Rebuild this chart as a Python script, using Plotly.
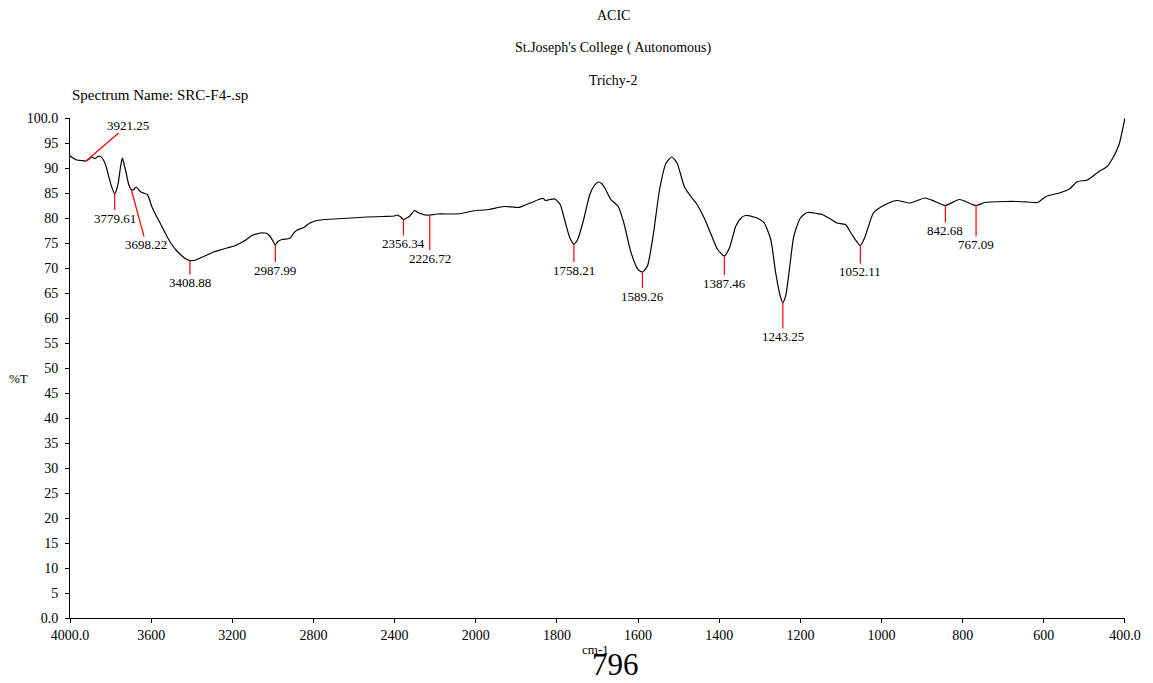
import plotly.graph_objects as go

# ---------------- data ----------------
# high-wavenumber region (4000 -> 2000 cm-1)
wn_high = [4000, 3985, 3967, 3945, 3921.25, 3905, 3893, 3877, 3862, 3850, 3835, 3822,
           3811, 3795, 3779.61, 3768, 3761, 3750, 3742, 3735, 3723, 3710, 3698.22, 3688,
           3674, 3654, 3632, 3618, 3597, 3577, 3556, 3523, 3500, 3473, 3450, 3432, 3408.88,
           3380, 3358, 3325, 3292, 3260, 3226, 3190, 3160, 3130, 3103, 3080, 3062, 3040,
           3029, 3015, 3004, 2987.99, 2975, 2955, 2930, 2914, 2895, 2880, 2860, 2848, 2825,
           2806, 2785, 2765, 2699, 2617, 2535, 2453, 2400, 2387, 2370, 2356.34, 2340, 2325,
           2301, 2285, 2272, 2250, 2226.72, 2189, 2120, 2074, 2040, 2000]
t_high = [92.4, 92.0, 91.6, 91.5, 91.4, 91.8, 92.2, 91.9, 92.3, 92.3, 91.6, 90.3,
          88.6, 86.3, 84.8, 86.0, 87.3, 90.5, 92.0, 91.0, 89.0, 86.6, 85.7, 85.6,
          86.2, 85.3, 84.9, 84.7, 82.3, 80.6, 79.0, 76.4, 74.8, 73.4, 72.5, 71.9, 71.5,
          71.6, 72.0, 72.6, 73.2, 73.6, 74.0, 74.4, 75.0, 75.7, 76.5, 76.8, 77.0, 77.0,
          76.9, 76.4, 75.7, 74.6, 75.3, 75.7, 75.8, 76.0, 77.1, 77.6, 77.9, 78.1, 78.8,
          79.2, 79.5, 79.6, 79.8, 80.0, 80.2, 80.3, 80.4, 80.6, 80.2, 79.7, 80.0, 80.4,
          81.5, 81.1, 80.9, 80.6, 80.6, 80.8, 80.8, 80.9, 81.2, 81.5]

# low-wavenumber region (2000 -> 400 cm-1)
wn_low = [2000, 1968, 1945, 1927, 1910, 1895, 1878, 1862, 1845, 1833, 1829, 1817, 1805,
          1792, 1780, 1768, 1758.21, 1749, 1735, 1719, 1708, 1698, 1690, 1682, 1667, 1649,
          1635, 1617, 1600, 1589.26, 1577, 1563, 1547, 1531, 1517, 1504, 1486, 1469, 1457,
          1437, 1420, 1404, 1387.46, 1375, 1359, 1345, 1335, 1314, 1300, 1289, 1273, 1261,
          1250, 1243.25, 1236, 1228, 1216, 1200, 1183, 1159, 1146, 1126, 1110, 1089, 1073,
          1052.11, 1040, 1020, 995, 963, 930, 893, 868, 842.68, 808, 767.09, 746, 693, 668,
          640, 615, 595, 562, 537, 517, 493, 464, 444, 428, 415, 407, 400]
t_low = [81.5, 81.7, 82.1, 82.3, 82.2, 82.1, 82.6, 83.1, 83.7, 83.9, 83.5, 83.7, 83.8,
         82.7, 79.3, 76.0, 74.8, 75.7, 79.4, 84.7, 86.5, 87.2, 86.9, 86.0, 83.7, 82.3,
         79.0, 73.0, 69.7, 69.2, 70.4, 76.4, 85.7, 91.0, 92.2, 91.0, 86.3, 84.2, 83.0,
         80.0, 76.7, 73.7, 72.4, 74.0, 78.4, 80.1, 80.5, 80.2, 79.7, 79.0, 75.7, 69.1,
         64.5, 63.1, 64.5, 69.1, 76.4, 80.0, 81.1, 80.9, 80.7, 79.8, 79.0, 78.7, 76.7,
         74.5, 76.4, 81.0, 82.5, 83.5, 83.0, 84.0, 83.3, 82.5, 83.7, 82.5, 83.1, 83.3, 83.3,
         83.2, 83.1, 84.3, 85.0, 85.8, 87.3, 87.6, 89.3, 90.3, 92.3, 94.6, 97.3, 100.0]

# labelled peaks
peak_wn = [3921.25, 3779.61, 3698.22, 3408.88, 2987.99, 2356.34, 2226.72,
           1758.21, 1589.26, 1387.46, 1243.25, 1052.11, 842.68, 767.09]
peak_t = [91.4, 84.8, 85.7, 71.5, 74.6, 79.7, 80.6,
          74.8, 69.2, 72.4, 63.1, 74.5, 82.5, 82.5]

# axis ticks
xticks_high = [4000, 3600, 3200, 2800, 2400]
xtext_high = ["4000.0", "3600", "3200", "2800", "2400"]
xticks_low = [2000, 1800, 1600, 1400, 1200, 1000, 800, 600, 400]
xtext_low = ["2000", "1800", "1600", "1400", "1200", "1000", "800", "600", "400.0"]
yticks = list(range(0, 101, 5))
ytext = ["0.0"] + [str(v) for v in yticks[1:-1]] + ["100.0"]

# ---------------- styling / layout ----------------
FONT = "Liberation Serif, Times New Roman, Times, serif"
split = 2000 / 5200.0  # 4000-2000 drawn at half the scale of 2000-400

# label offsets (pixels) from peak tip to label centre
label_offsets = [(42, -36), (0, 24), (15, 55), (0, 22), (0, 25), (0, 24), (0, 43),
                 (0, 26), (0, 24), (0, 27), (0, 34), (0, 26), (0, 25), (0, 39)]

fig = go.Figure()
line_style = dict(color="black", width=1.2, shape="spline", smoothing=0.6)
fig.add_trace(go.Scatter(x=wn_high, y=t_high, mode="lines", line=line_style,
                         xaxis="x", yaxis="y", showlegend=False, hoverinfo="x+y"))
fig.add_trace(go.Scatter(x=wn_low, y=t_low, mode="lines", line=line_style,
                         xaxis="x2", yaxis="y", showlegend=False, hoverinfo="x+y"))

annotations = []
for wn, tv, (ax, ay) in zip(peak_wn, peak_t, label_offsets):
    annotations.append(dict(
        x=wn, y=tv, xref="x" if wn >= 2000 else "x2", yref="y",
        text=f"{wn:.2f}", showarrow=True, arrowhead=0, arrowwidth=1.2,
        arrowcolor="red", ax=ax, ay=ay, standoff=0, startstandoff=0,
        xanchor="center", yanchor="middle",
        font=dict(family=FONT, size=13, color="black"), borderpad=0))

title_font = dict(family=FONT, size=14, color="black")
annotations += [
    dict(text="ACIC", x=0.515, y=1.206, xref="paper", yref="paper",
         showarrow=False, font=title_font, xanchor="center", yanchor="middle"),
    dict(text="St.Joseph's College ( Autonomous)", x=0.515, y=1.14, xref="paper",
         yref="paper", showarrow=False, font=title_font, xanchor="center", yanchor="middle"),
    dict(text="Trichy-2", x=0.515, y=1.074, xref="paper", yref="paper",
         showarrow=False, font=title_font, xanchor="center", yanchor="middle"),
    dict(text="Spectrum Name: SRC-F4-.sp", x=0.0, y=1.046, xref="paper", yref="paper",
         showarrow=False, font=dict(family=FONT, size=15, color="black"),
         xanchor="left", yanchor="middle"),
    dict(text="%T", x=-0.0486, y=0.48, xref="paper", yref="paper", showarrow=False,
         font=dict(family=FONT, size=13, color="black"), xanchor="center", yanchor="middle"),
    dict(text="cm-1", x=0.498, y=-0.062, xref="paper", yref="paper", showarrow=False,
         font=dict(family=FONT, size=13, color="black"), xanchor="center", yanchor="middle"),
    dict(text="796", x=0.517, y=-0.13, xref="paper", yref="paper", showarrow=False,
         font=dict(family=FONT, size=31, color="black"), xanchor="center", yanchor="bottom",
         borderpad=0),
]

axis_common = dict(showgrid=False, zeroline=False, showline=True, linecolor="black",
                   linewidth=1, ticks="outside", ticklen=4, tickcolor="black",
                   tickfont=dict(family=FONT, size=14, color="black"), tickmode="array")

fig.update_layout(
    width=1153, height=683,
    margin=dict(l=70, r=19, t=118, b=65),
    paper_bgcolor="white", plot_bgcolor="white",
    xaxis=dict(domain=[0, split], range=[4000, 2000], tickvals=xticks_high,
               ticktext=xtext_high, anchor="y", **axis_common),
    xaxis2=dict(domain=[split, 1], range=[2000, 400], tickvals=xticks_low,
                ticktext=xtext_low, anchor="y", **axis_common),
    yaxis=dict(range=[0, 100], tickvals=yticks, ticktext=ytext, anchor="x",
               ticklabelstandoff=4, **axis_common),
    annotations=annotations,
    showlegend=False,
)

fig.write_html("out.html", config={"displayModeBar": False},
               post_script="document.body.style.margin='0';document.body.style.overflow='hidden';")
